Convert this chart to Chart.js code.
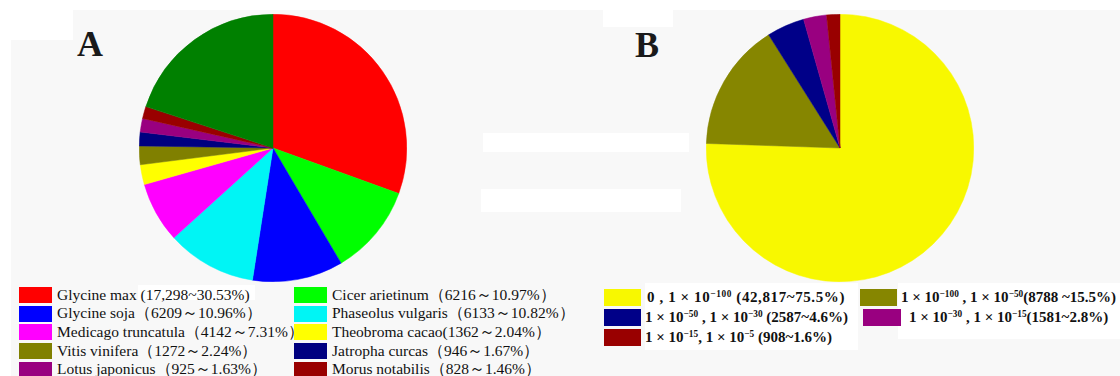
<!DOCTYPE html>
<html>
<head>
<meta charset="utf-8">
<script src="https://cdn.jsdelivr.net/npm/chart.js@4.4.1/dist/chart.umd.min.js"></script>
<style>
  html, body { margin: 0; padding: 0; background: #ffffff; }
  #fig { position: relative; width: 1120px; height: 376px; overflow: hidden; background: #ffffff; }
  .bg { position: absolute; }
  .grey { background: #f8f8f8; }
  .white { background: #ffffff; }
  .panel { position: absolute; font-family: "Liberation Serif", "Times New Roman", serif; font-weight: bold; font-size: 36px; color: #1a1a1a; line-height: 1; }
  canvas { position: absolute; }
  .legend { position: absolute; display: grid; }
  .item { display: flex; align-items: center; white-space: nowrap; }
  .sw { flex: none; }
  #legA { left: 19px; top: 286px; grid-template-columns: 275px auto; grid-auto-rows: 18.6px;
          font-family: "Liberation Serif", "Times New Roman", serif; font-size: 15.5px; color: #111; }
  #legA .sw { width: 33px; height: 16px; margin-right: 5px; }
  #legB { left: 604px; top: 287px; grid-template-columns: 256px auto; grid-auto-rows: 20px;
          font-family: "Liberation Serif", "Times New Roman", serif; font-weight: bold; font-size: 15px; color: #111; }
  #legB .sw { width: 37px; height: 17px; margin-right: 4px; }
  #legB sup { font-size: 0.62em; vertical-align: 0.55em; line-height: 0; }
  #legB .item:nth-child(1) span:last-child { letter-spacing: 0.6px; margin-left: 2px; }
  #legB .item:nth-child(4) { margin-left: 3px; }
  #legB .item:nth-child(4) .sw { width: 38px; margin-right: 8px; }
</style>
</head>
<body>
<div id="fig">
  <!-- figure backdrop -->
  <div class="bg grey" style="left:11px;top:40px;width:1109px;height:336px;"></div>
  <div class="bg grey" style="left:73px;top:10px;width:1047px;height:30px;"></div>
  <div class="bg white" style="left:603px;top:10px;width:70px;height:17px;"></div>
  <div class="bg white" style="left:483px;top:133px;width:206px;height:19px;"></div>
  <div class="bg white" style="left:481px;top:189px;width:200px;height:23px;"></div>
  <div class="bg white" style="left:645px;top:283px;width:213px;height:67px;"></div>
  <div class="bg white" style="left:898px;top:283px;width:222px;height:56px;"></div>
  <div class="bg white" style="left:138px;top:285px;width:117px;height:15px;"></div>

  <div class="panel" style="left:77px;top:26px;">A</div>
  <div class="panel" style="left:635px;top:27px;">B</div>

  <canvas id="pieA" width="268" height="268" style="left:139px;top:14px;"></canvas>
  <canvas id="pieB" width="268" height="268" style="left:706px;top:14px;"></canvas>

  <div id="legA" class="legend"></div>
  <div id="legB" class="legend"></div>
</div>

<script>
// Panel A: unigene best hits by species (count of sequences)
const speciesA = ['Glycine max', 'Cicer arietinum', 'Glycine soja', 'Phaseolus vulgaris',
                  'Medicago truncatula', 'Theobroma cacao', 'Vitis vinifera', 'Jatropha curcas',
                  'Lotus japonicus', 'Morus notabilis', 'Others'];
const countsA = [17298, 6216, 6209, 6133, 4142, 1362, 1272, 946, 925, 828, 11328];
const legendTextA = [
  ' (17,298~30.53%)',
  '（6216～10.97%）',
  '（6209～10.96%）',
  '（6133～10.82%）',
  '（4142～7.31%）',
  '(1362～2.04%）',
  '（1272～2.24%）',
  '（946～1.67%）',
  '（925～1.63%）',
  '（828～1.46%）'
];
const colorsA = ['#ff0000', '#00ff00', '#0000ff', '#00f5f5', '#ff00ff', '#ffff00',
                 '#808000', '#000080', '#990080', '#990000', '#008000'];

// Panel B: E-value distribution of the hits
const evalueLowExp = [null, -100, -50, -30, -15];
const evalueHighExp = [-100, -50, -30, -15, -5];
const countsB = [42817, 8788, 2587, 1581, 908];
const legendTextB = [' (42,817~75.5%)', '(8788 ~15.5%)', ' (2587~4.6%)', '(1581~2.8%)', ' (908~1.6%)'];
const colorsB = ['#f8f800', '#868600', '#000088', '#990080', '#990000'];

function pie(id, labels, values, colors) {
  return new Chart(document.getElementById(id), {
    type: 'pie',
    data: {
      labels: labels,
      datasets: [{
        data: values,
        backgroundColor: colors,
        borderColor: colors,
        borderWidth: 0.5
      }]
    },
    options: {
      responsive: false,
      animation: false,
      devicePixelRatio: 1,
      layout: { padding: 0 },
      plugins: { legend: { display: false }, tooltip: { enabled: false } }
    }
  });
}

const labelsB = evalueLowExp.map((lo, i) => (lo === null ? '0' : '1e' + lo) + ', 1e' + evalueHighExp[i]);
pie('pieA', speciesA, countsA, colorsA);
pie('pieB', labelsB, countsB, colorsB);

// legend A (the "Others" slice has no entry)
const legA = document.getElementById('legA');
legendTextA.forEach((txt, i) => {
  const it = document.createElement('div');
  it.className = 'item';
  const sw = document.createElement('span');
  sw.className = 'sw';
  sw.style.background = colorsA[i];
  const t = document.createElement('span');
  t.textContent = speciesA[i] + txt;
  it.appendChild(sw); it.appendChild(t);
  legA.appendChild(it);
});

// legend B with E-value range bounds written as powers of ten
function pow10(e) { return '1 × 10<sup>' + String(e).replace('-', '−') + '</sup>'; }
const sepB = [' , ', ' , ', ' , ', ' , ', ', '];
const legB = document.getElementById('legB');
countsB.forEach((c, i) => {
  const it = document.createElement('div');
  it.className = 'item';
  const sw = document.createElement('span');
  sw.className = 'sw';
  sw.style.background = colorsB[i];
  const t = document.createElement('span');
  const lo = evalueLowExp[i] === null ? '0' : pow10(evalueLowExp[i]);
  t.innerHTML = lo + sepB[i] + pow10(evalueHighExp[i]) + legendTextB[i];
  it.appendChild(sw); it.appendChild(t);
  legB.appendChild(it);
});
</script>
</body>
</html>
